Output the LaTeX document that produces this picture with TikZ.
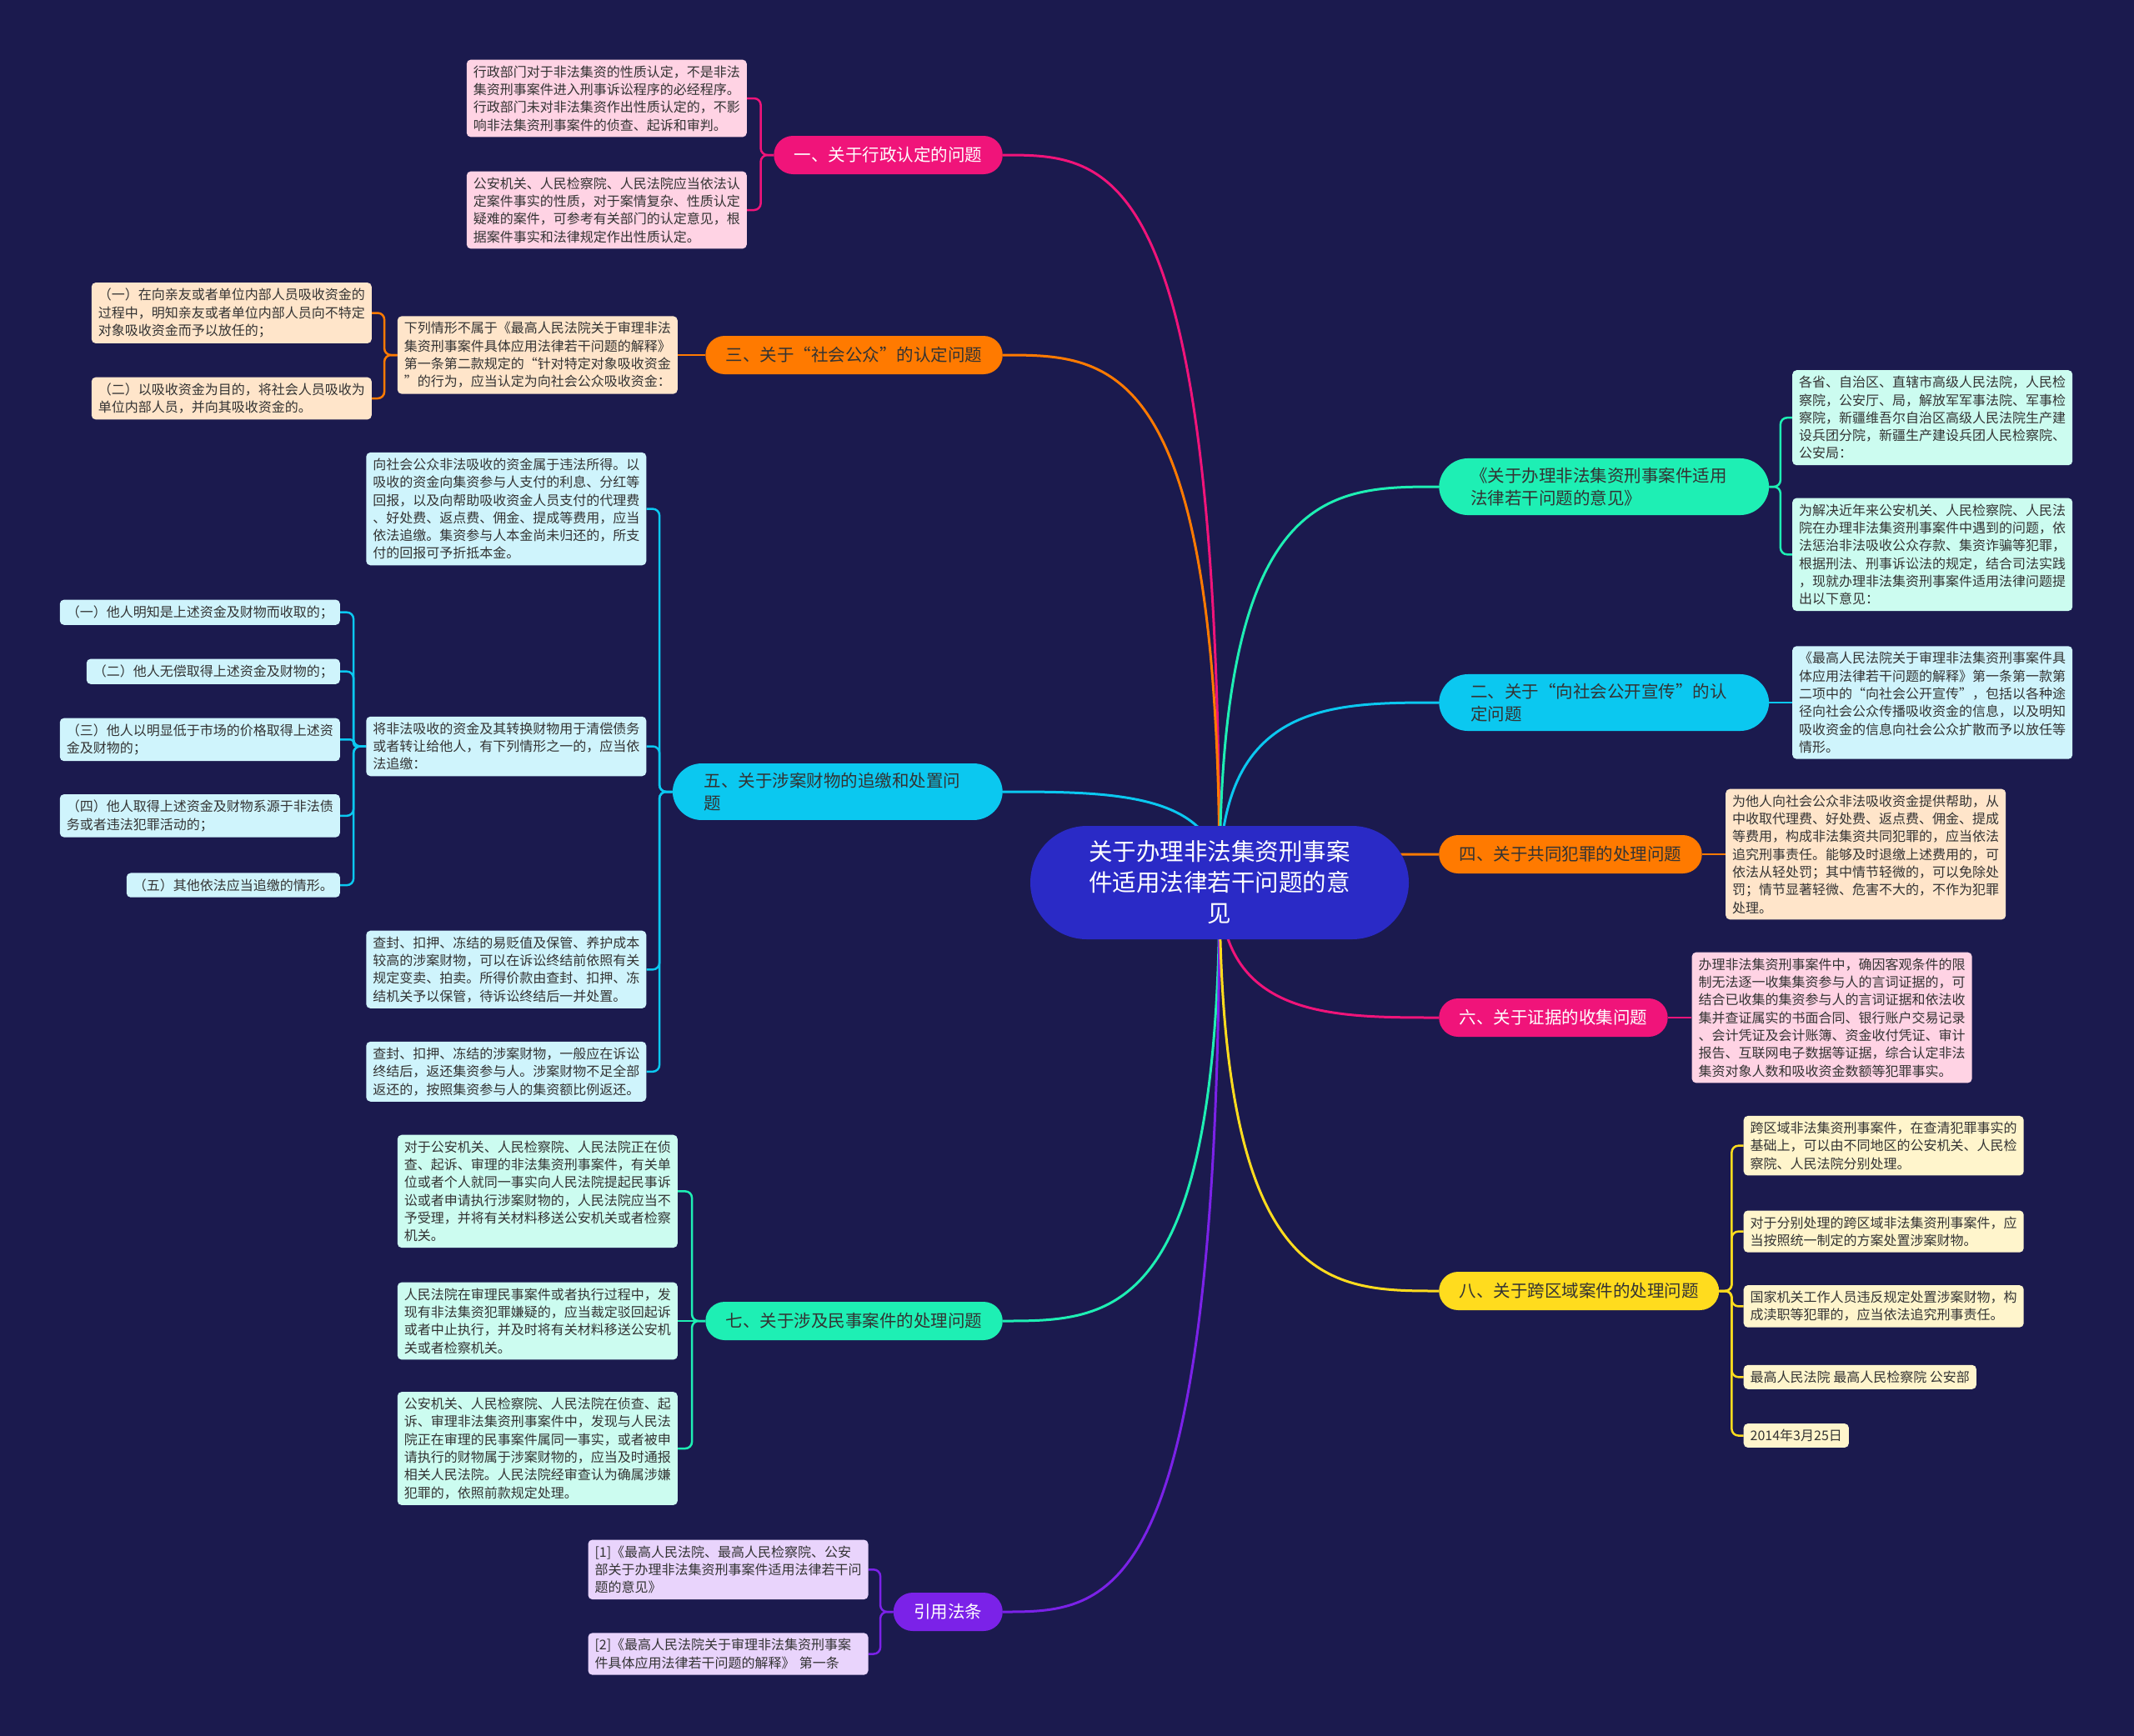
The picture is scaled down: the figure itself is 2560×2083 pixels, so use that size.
\documentclass[tikz,border=0pt]{standalone}
\usepackage{fontspec}
\newfontfamily\cjk{Noto Sans CJK SC}
\usetikzlibrary{calc}
\definecolor{bgc}{HTML}{1B1A4E}
\definecolor{rootc}{HTML}{2A2AC6}
\definecolor{magc}{HTML}{F0147A}
\definecolor{orac}{HTML}{FF7A00}
\definecolor{cyac}{HTML}{0BC8F0}
\definecolor{grnc}{HTML}{1EEFB4}
\definecolor{yelc}{HTML}{FFDC1E}
\definecolor{purc}{HTML}{7B22E8}
\definecolor{pinkl}{HTML}{FFD3E4}
\definecolor{peachl}{HTML}{FFE5CA}
\definecolor{cyanl}{HTML}{CFF4FC}
\definecolor{mintl}{HTML}{CCFCF0}
\definecolor{yell}{HTML}{FFF5CC}
\definecolor{lavl}{HTML}{E9D4FC}
\definecolor{darktext}{HTML}{333333}
\pgfdeclarelayer{bglayer}
\pgfdeclarelayer{lines}
\pgfsetlayers{bglayer,lines,main}
\newcommand\lfnt{\cjk\fontsize{16}{21.3}\selectfont}
\newcommand\mfnt{\cjk\fontsize{20.5}{27}\selectfont}
\newcommand\rfnt{\cjk\fontsize{28.5}{37}\selectfont}
\tikzset{
  rootnode/.style={fill=rootc, text=white, rounded corners=68pt, minimum width=454pt, minimum height=136pt, align=center, font=\rfnt, inner sep=0pt},
  mainnode/.style={rounded corners=23pt, inner xsep=24.5pt, inner ysep=11pt, minimum height=46pt, font=\mfnt, text=darktext},
  mainnodeb/.style={mainnode, text width=320pt, align=left, inner xsep=38pt, rounded corners=35pt},
  leaf/.style={rounded corners=5pt, inner xsep=8pt, inner ysep=7pt, font=\lfnt, text=darktext, align=left},
  wleaf/.style={leaf, text width=320pt},
  conn/.style={draw=#1, line width=3pt},
  br/.style={draw=#1, line width=2.5pt, rounded corners=8pt},
}
\begin{document}
\begin{tikzpicture}[x=1pt,y=-1pt]
\useasboundingbox (0,0) rectangle (2560,2083);
\begin{pgfonlayer}{bglayer}
\fill[bgc] (0,0) rectangle (2560,2083);
\end{pgfonlayer}

% root
\node[rootnode] (root) at (1463,1059) {关于办理非法集资刑事案\\件适用法律若干问题的意\\见};

% main branches left
\node[mainnode, fill=magc, text=white, anchor=east] (m1) at (1203,186) {一、关于行政认定的问题};
\node[mainnode, fill=orac, anchor=east] (m3) at (1203,426) {三、关于“社会公众”的认定问题};
\node[mainnodeb, fill=cyac, anchor=east] (m5) at (1203,950) {五、关于涉案财物的追缴和处置问\\题};
\node[mainnode, fill=grnc, anchor=east] (m7) at (1203,1585) {七、关于涉及民事案件的处理问题};
\node[mainnode, fill=purc, text=white, anchor=east] (mr) at (1203,1934) {引用法条};
% main branches right
\node[mainnodeb, fill=grnc, anchor=west] (m0) at (1726,584) {《关于办理非法集资刑事案件适用\\法律若干问题的意见》};
\node[mainnodeb, fill=cyac, anchor=west] (m2) at (1726,843) {二、关于“向社会公开宣传”的认\\定问题};
\node[mainnode, fill=orac, anchor=west] (m4) at (1726,1025) {四、关于共同犯罪的处理问题};
\node[mainnode, fill=magc, text=white, anchor=west] (m6) at (1726,1221) {六、关于证据的收集问题};
\node[mainnode, fill=yelc, anchor=west] (m8) at (1726,1549) {八、关于跨区域案件的处理问题};

% leaves: 一
\node[wleaf, fill=pinkl, anchor=east] (a1) at (896,118) {行政部门对于非法集资的性质认定，不是非法\\集资刑事案件进入刑事诉讼程序的必经程序。\\行政部门未对非法集资作出性质认定的，不影\\响非法集资刑事案件的侦查、起诉和审判。};
\node[wleaf, fill=pinkl, anchor=east] (a2) at (896,252) {公安机关、人民检察院、人民法院应当依法认\\定案件事实的性质，对于案情复杂、性质认定\\疑难的案件，可参考有关部门的认定意见，根\\据案件事实和法律规定作出性质认定。};

% leaves: 三
\node[wleaf, fill=peachl, anchor=east] (b0) at (813,426) {下列情形不属于《最高人民法院关于审理非法\\集资刑事案件具体应用法律若干问题的解释》\\第一条第二款规定的“针对特定对象吸收资金\\”的行为，应当认定为向社会公众吸收资金：};
\node[wleaf, fill=peachl, anchor=east] (b1) at (446,375.5) {（一）在向亲友或者单位内部人员吸收资金的\\过程中，明知亲友或者单位内部人员向不特定\\对象吸收资金而予以放任的；};
\node[wleaf, fill=peachl, anchor=east] (b2) at (446,478) {（二）以吸收资金为目的，将社会人员吸收为\\单位内部人员，并向其吸收资金的。};

% leaves: 五
\node[wleaf, fill=cyanl, anchor=east] (c0) at (775.5,610.6) {向社会公众非法吸收的资金属于违法所得。以\\吸收的资金向集资参与人支付的利息、分红等\\回报，以及向帮助吸收资金人员支付的代理费\\、好处费、返点费、佣金、提成等费用，应当\\依法追缴。集资参与人本金尚未归还的，所支\\付的回报可予折抵本金。};
\node[wleaf, fill=cyanl, anchor=east] (c5) at (775.5,895.5) {将非法吸收的资金及其转换财物用于清偿债务\\或者转让给他人，有下列情形之一的，应当依\\法追缴：};
\node[wleaf, fill=cyanl, anchor=east] (cc) at (775.5,1163.3) {查封、扣押、冻结的易贬值及保管、养护成本\\较高的涉案财物，可以在诉讼终结前依照有关\\规定变卖、拍卖。所得价款由查封、扣押、冻\\结机关予以保管，待诉讼终结后一并处置。};
\node[wleaf, fill=cyanl, anchor=east] (cd) at (775.5,1285.8) {查封、扣押、冻结的涉案财物，一般应在诉讼\\终结后，返还集资参与人。涉案财物不足全部\\返还的，按照集资参与人的集资额比例返还。};
\node[leaf, fill=cyanl, anchor=east] (d1) at (408,734.7) {（一）他人明知是上述资金及财物而收取的；};
\node[leaf, fill=cyanl, anchor=east] (d2) at (408,805.7) {（二）他人无偿取得上述资金及财物的；};
\node[wleaf, fill=cyanl, anchor=east] (d3) at (408,887.4) {（三）他人以明显低于市场的价格取得上述资\\金及财物的；};
\node[wleaf, fill=cyanl, anchor=east] (d4) at (408,978.8) {（四）他人取得上述资金及财物系源于非法债\\务或者违法犯罪活动的；};
\node[leaf, fill=cyanl, anchor=east] (d5) at (408,1062.1) {（五）其他依法应当追缴的情形。};

% leaves: 七
\node[wleaf, fill=mintl, anchor=east] (e1) at (813,1429.4) {对于公安机关、人民检察院、人民法院正在侦\\查、起诉、审理的非法集资刑事案件，有关单\\位或者个人就同一事实向人民法院提起民事诉\\讼或者申请执行涉案财物的，人民法院应当不\\予受理，并将有关材料移送公安机关或者检察\\机关。};
\node[wleaf, fill=mintl, anchor=east] (e2) at (813,1585) {人民法院在审理民事案件或者执行过程中，发\\现有非法集资犯罪嫌疑的，应当裁定驳回起诉\\或者中止执行，并及时将有关材料移送公安机\\关或者检察机关。};
\node[wleaf, fill=mintl, anchor=east] (e3) at (813,1738) {公安机关、人民检察院、人民法院在侦查、起\\诉、审理非法集资刑事案件中，发现与人民法\\院正在审理的民事案件属同一事实，或者被申\\请执行的财物属于涉案财物的，应当及时通报\\相关人民法院。人民法院经审查认为确属涉嫌\\犯罪的，依照前款规定处理。};

% leaves: 引用法条
\node[wleaf, fill=lavl, anchor=east] (f1) at (1041.7,1883.3) {{[1]}《最高人民法院、最高人民检察院、公安\\部关于办理非法集资刑事案件适用法律若干问\\题的意见》};
\node[wleaf, fill=lavl, anchor=east] (f2) at (1041.7,1984.5) {{[2]}《最高人民法院关于审理非法集资刑事案\\件具体应用法律若干问题的解释》 第一条};

% leaves: right
\node[wleaf, fill=mintl, anchor=west] (g1) at (2150,501.2) {各省、自治区、直辖市高级人民法院，人民检\\察院，公安厅、局，解放军军事法院、军事检\\察院，新疆维吾尔自治区高级人民法院生产建\\设兵团分院，新疆生产建设兵团人民检察院、\\公安局：};
\node[wleaf, fill=mintl, anchor=west] (g2) at (2150,665.3) {为解决近年来公安机关、人民检察院、人民法\\院在办理非法集资刑事案件中遇到的问题，依\\法惩治非法吸收公众存款、集资诈骗等犯罪，\\根据刑法、刑事诉讼法的规定，结合司法实践\\，现就办理非法集资刑事案件适用法律问题提\\出以下意见：};
\node[wleaf, fill=cyanl, anchor=west] (h1) at (2150,843) {《最高人民法院关于审理非法集资刑事案件具\\体应用法律若干问题的解释》第一条第一款第\\二项中的“向社会公开宣传”，包括以各种途\\径向社会公众传播吸收资金的信息，以及明知\\吸收资金的信息向社会公众扩散而予以放任等\\情形。};
\node[wleaf, fill=peachl, anchor=west] (i1) at (2070,1025) {为他人向社会公众非法吸收资金提供帮助，从\\中收取代理费、好处费、返点费、佣金、提成\\等费用，构成非法集资共同犯罪的，应当依法\\追究刑事责任。能够及时退缴上述费用的，可\\依法从轻处罚；其中情节轻微的，可以免除处\\罚；情节显著轻微、危害不大的，不作为犯罪\\处理。};
\node[wleaf, fill=pinkl, anchor=west] (j1) at (2029.4,1221) {办理非法集资刑事案件中，确因客观条件的限\\制无法逐一收集集资参与人的言词证据的，可\\结合已收集的集资参与人的言词证据和依法收\\集并查证属实的书面合同、银行账户交易记录\\、会计凭证及会计账簿、资金收付凭证、审计\\报告、互联网电子数据等证据，综合认定非法\\集资对象人数和吸收资金数额等犯罪事实。};
\node[wleaf, fill=yell, anchor=west] (k1) at (2091.5,1374.7) {跨区域非法集资刑事案件，在查清犯罪事实的\\基础上，可以由不同地区的公安机关、人民检\\察院、人民法院分别处理。};
\node[wleaf, fill=yell, anchor=west] (k2) at (2091.5,1477.6) {对于分别处理的跨区域非法集资刑事案件，应\\当按照统一制定的方案处置涉案财物。};
\node[wleaf, fill=yell, anchor=west] (k3) at (2091.5,1567.4) {国家机关工作人员违反规定处置涉案财物，构\\成渎职等犯罪的，应当依法追究刑事责任。};
\node[leaf, fill=yell, anchor=west] (k4) at (2091.5,1652.3) {最高人民法院 最高人民检察院 公安部};
\node[leaf, fill=yell, anchor=west] (k5) at (2091.5,1722.5) {2014年3月25日};

% connectors
\begin{pgfonlayer}{lines}
\foreach \n/\c/\s in {m1/magc/east, m3/orac/east, m5/cyac/east, m7/grnc/east, mr/purc/east, m0/grnc/west, m2/cyac/west, m4/orac/west, m6/magc/west, m8/yelc/west}
  \draw[conn=\c] (root.center) .. controls (root.center |- \n.\s) and ($(root.center |- \n.\s)!0.5!(\n.\s)$) .. (\n.\s);

\foreach \t in {a1,a2} \draw[br=magc] (m1.west) -- ++(-15.5,0) |- (\t.east);
\draw[br=orac] (m3.west) -- (b0.east);
\foreach \t in {b1,b2} \draw[br=orac] (b0.west) -- ++(-15.5,0) |- (\t.east);
\foreach \t in {c0,c5,cc,cd} \draw[br=cyac] (m5.west) -- ++(-15.5,0) |- (\t.east);
\foreach \t in {d1,d2,d4,d5} \draw[br=cyac] (c5.west) -- ++(-15,0) |- (\t.east);
\draw[br=cyac, rounded corners=3.5pt] (c5.west) -- ++(-15,0) |- (d3.east);
\foreach \t in {e1,e3} \draw[br=grnc] (m7.west) -- ++(-16,0) |- (\t.east);
\draw[br=grnc] (m7.west) -- (e2.east);
\foreach \t in {f1,f2} \draw[br=purc] (mr.west) -- ++(-15.5,0) |- (\t.east);

\foreach \t in {g1,g2} \draw[br=grnc] (m0.east) -- ++(13.5,0) |- (\t.west);
\draw[br=cyac] (m2.east) -- (h1.west);
\draw[br=orac] (m4.east) -- (i1.west);
\draw[br=magc] (m6.east) -- (j1.west);
\foreach \t in {k1,k2,k3,k4,k5} \draw[br=yelc] (m8.east) -- ++(15,0) |- (\t.west);
\end{pgfonlayer}
\end{tikzpicture}
\end{document}
